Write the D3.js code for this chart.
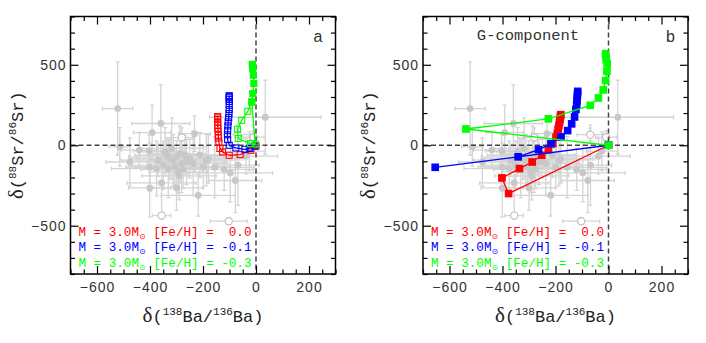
<!DOCTYPE html>
<html>
<head>
<meta charset="utf-8">
<script src="https://cdn.jsdelivr.net/npm/d3@7"></script>
<style>
  body { margin: 0; background: #fff; }
  svg { display: block; }
  .tick text { font-family: "Liberation Sans", "DejaVu Sans", sans-serif; font-size: 14px; fill: #333; letter-spacing: 1px; }
  .mono { font-family: "Liberation Mono", "DejaVu Sans Mono", monospace; }
</style>
</head>
<body>
<svg id="chart" width="706" height="343"></svg>
<script>
// grains (same measurements drawn behind both panels)
const grainX = [-522, -514, -476, -403, -392, -359, -232, -356, -401, -300, -218, -180, -156, -97, -78, -68, 35, -38, -25,
  -337, -325, -312, -300, -287, -268, -350, -331, -306, -293, -262, -375, -401, -250, -237, -199, -187, -369, -281, -343,
  -318, -275, -212, -120, -440, -290];
const grainY = [228, -10, -104, -35, 79, 135, 72, -234, -265, -265, -311, -85, -137, -172, -219, -124, 174, -68, -37,
  -62, -83, -93, -72, -52, -62, -124, -145, -135, -166, -104, -145, -135, -83, -114, -135, -93, -93, -114, -40,
  -20, -150, -60, -150, -30, -190];
const grainXErr = [57, 40, 90, 60, 70, 110, 60, 130, 80, 100, 140, 120, 150, 160, 100, 80, 210, 120, 60,
  120, 150, 90, 180, 100, 140, 130, 100, 160, 110, 150, 170, 90, 200, 130, 100, 110, 140, 100, 80,
  120, 160, 90, 110, 70, 140];
const grainYErr = [290, 120, 150, 100, 170, 240, 110, 200, 180, 140, 130, 150, 190, 180, 200, 250, 230, 110, 120,
  110, 130, 160, 100, 170, 120, 150, 180, 110, 130, 140, 170, 150, 120, 200, 130, 160, 100, 180, 150,
  190, 120, 140, 130, 110, 150];
const openX = [-356, -103, -280, -69, -9];
const openY = [-437, -472, 48, 66, 50];
const openXErr = [35, 70, 40, 50, 40];
const openYErr = [20, 20, 60, 40, 40];

// panel a models (open squares)
const redA = [[0, -4], [-19, -31], [-60, -58], [-101, -62], [-126, -42], [-136, -20], [-140, 20], [-142, 45], [-142, 62],
  [-143, 85], [-144, 105], [-144, 125], [-145, 145], [-145, 160], [-145, 170], [-145, 178]];
const blueA = [[-4, -6], [-23, -20], [-42, -25], [-76, -17], [-101, 0], [-107, 35], [-108, 65], [-107, 93], [-106, 120],
  [-105, 145], [-103, 172], [-102, 197], [-101, 222], [-101, 248], [-101, 272], [-101, 285], [-101, 295], [-101, 302], [-101, 308]];
const greenA = [[-16, 269], [-3, 8], [-21, 10], [-67, 42], [-70, 99], [-54, 155], [-31, 211], [-16, 269], [-12, 321],
  [-8, 383], [-10, 435], [-12, 476], [-13, 490], [-14, 503]];
const greenAFilledFrom = 7;

// panel b models (filled squares)
const redB = [[0, 0], [-377, -300], [-402, -203], [-336, -145], [-288, -104], [-252, -62], [-227, -27], [-210, 10],
  [-198, 50], [-193, 75], [-190, 100], [-187, 122], [-185, 142], [-183, 158], [-182, 172], [-181, 182], [-180, 190]];
const blueB = [[0, 0], [-654, -137], [-341, -72], [-264, -27], [-217, 10], [-179, 52], [-154, 91], [-139, 133],
  [-128, 176], [-123, 222], [-120, 250], [-119, 275], [-118, 298], [-117, 318], [-116, 335]];
const greenB = [[0, 0], [-538, 101], [-227, 164], [-69, 248], [-38, 294], [-20, 344], [-11, 402], [-6, 460],
  [-5, 507], [-8, 530], [-9, 545], [-11, 569]];

const legendFeH = ['  0.0', ' -0.1', ' -0.3'];
const modelColors = ['#ff0000', '#0000ff', '#00ff00'];

const xMajor = [-600, -400, -200, 0, 200];
const yMajor = [-500, 0, 500];
const xMinor = d3.range(-700, 301, 50).filter((v) => !xMajor.includes(v));
const yMinor = d3.range(-800, 801, 100).filter((v) => !yMajor.includes(v));

const svg = d3.select('#chart');
svg.append('rect').attr('width', 706).attr('height', 343).attr('fill', '#fff');

const plotTop = 16.5;
const plotBottom = 274;
const panelW = 265;

function axisTitle(g, sup1, el1, sup2, el2) {
  g.append('tspan').attr('font-family', '"Liberation Serif", serif').attr('font-size', 21).text('δ');
  g.append('tspan').text('(');
  g.append('tspan').attr('font-size', 11).attr('dy', -7).text(sup1);
  g.append('tspan').attr('dy', 7).text(el1 + '/');
  g.append('tspan').attr('font-size', 11).attr('dy', -7).text(sup2);
  g.append('tspan').attr('dy', 7).text(el2 + ')');
}

function drawPanel(left, id, models, filledFrom, label, subtitle) {
  const x = d3.scaleLinear().domain([-700, 300]).range([left, left + panelW]);
  const y = d3.scaleLinear().domain([-800, 800]).range([plotBottom, plotTop]);
  const g = svg.append('g');

  g.append('clipPath').attr('id', 'clip' + id)
    .append('rect').attr('x', left).attr('y', plotTop).attr('width', panelW).attr('height', plotBottom - plotTop);
  const plot = g.append('g').attr('clip-path', `url(#clip${id})`);

  // error bars
  const bars = plot.append('g').attr('stroke', '#d4d4d4').attr('stroke-width', 1.3);
  const allX = grainX.concat(openX);
  const allY = grainY.concat(openY);
  const allXe = grainXErr.concat(openXErr);
  const allYe = grainYErr.concat(openYErr);
  allX.forEach((vx, i) => {
    const cx = x(vx);
    const cy = y(allY[i]);
    const x0 = x(vx - allXe[i]);
    const x1 = x(vx + allXe[i]);
    const y0 = y(allY[i] - allYe[i]);
    const y1 = y(allY[i] + allYe[i]);
    bars.append('line').attr('x1', x0).attr('x2', x1).attr('y1', cy).attr('y2', cy);
    bars.append('line').attr('x1', cx).attr('x2', cx).attr('y1', y0).attr('y2', y1);
    bars.append('line').attr('x1', x0).attr('x2', x0).attr('y1', cy - 2).attr('y2', cy + 2);
    bars.append('line').attr('x1', x1).attr('x2', x1).attr('y1', cy - 2).attr('y2', cy + 2);
    bars.append('line').attr('x1', cx - 2).attr('x2', cx + 2).attr('y1', y0).attr('y2', y0);
    bars.append('line').attr('x1', cx - 2).attr('x2', cx + 2).attr('y1', y1).attr('y2', y1);
  });

  plot.append('g').selectAll('circle')
    .data(grainX.map((vx, i) => [vx, grainY[i]]))
    .join('circle')
    .attr('cx', (d) => x(d[0]))
    .attr('cy', (d) => y(d[1]))
    .attr('r', 3.4)
    .attr('fill', '#c8c8c8');

  plot.append('g').selectAll('circle')
    .data(openX.map((vx, i) => [vx, openY[i]]))
    .join('circle')
    .attr('cx', (d) => x(d[0]))
    .attr('cy', (d) => y(d[1]))
    .attr('r', 3.6)
    .attr('fill', '#fff')
    .attr('stroke', '#c0c0c0')
    .attr('stroke-width', 1.2);

  // zero lines
  plot.append('line').attr('x1', left).attr('x2', left + panelW).attr('y1', y(0)).attr('y2', y(0))
    .attr('stroke', '#444').attr('stroke-width', 1.5).attr('stroke-dasharray', '5,3');
  plot.append('line').attr('x1', x(0)).attr('x2', x(0)).attr('y1', plotTop).attr('y2', plotBottom)
    .attr('stroke', '#444').attr('stroke-width', 1.5).attr('stroke-dasharray', '5,3');

  const line = d3.line().x((d) => x(d[0])).y((d) => y(d[1]));
  models.forEach((pts, k) => {
    const color = modelColors[k];
    plot.append('path').datum(pts).attr('d', line)
      .attr('fill', 'none').attr('stroke', color).attr('stroke-width', 1.3);
    const s = filledFrom[k] === 0 ? 6.5 : 6;
    plot.append('g').selectAll('rect')
      .data(pts)
      .join('rect')
      .attr('x', (d) => x(d[0]) - s / 2)
      .attr('y', (d) => y(d[1]) - s / 2)
      .attr('width', s)
      .attr('height', s)
      .attr('fill', (d, i) => (i >= filledFrom[k] ? color : 'none'))
      .attr('stroke', color)
      .attr('stroke-width', 1.1);
  });

  // frame ticks, pointing inward on all four sides
  const ax = (axis, tr, vals, len, labels, pad) => g.append('g')
    .attr('transform', tr)
    .call(axis.tickValues(vals).tickSize(-len).tickPadding(pad)
      .tickFormat(labels ? d3.format('d') : ''))
    .call((s) => s.select('.domain').remove())
    .call((s) => s.selectAll('.tick line').attr('stroke', '#000').attr('stroke-width', 1.2));

  ax(d3.axisBottom(x), `translate(0,${plotBottom})`, xMajor, 8, true, 8);
  ax(d3.axisBottom(x), `translate(0,${plotBottom})`, xMinor, 4.5, false, 0);
  ax(d3.axisTop(x), `translate(0,${plotTop})`, xMajor, 8, false, 0);
  ax(d3.axisTop(x), `translate(0,${plotTop})`, xMinor, 4.5, false, 0);
  ax(d3.axisLeft(y), `translate(${left},0)`, yMajor, 8, true, 4);
  ax(d3.axisLeft(y), `translate(${left},0)`, yMinor, 4.5, false, 0);
  ax(d3.axisRight(y), `translate(${left + panelW},0)`, yMajor, 8, false, 0);
  ax(d3.axisRight(y), `translate(${left + panelW},0)`, yMinor, 4.5, false, 0);

  g.append('rect').attr('x', left).attr('y', plotTop).attr('width', panelW).attr('height', plotBottom - plotTop)
    .attr('fill', 'none').attr('stroke', '#000').attr('stroke-width', 1.5);

  // labels
  g.append('text').attr('x', left + panelW - 22).attr('y', 42)
    .attr('font-family', '"Liberation Sans", sans-serif').attr('font-size', 16).attr('fill', '#333')
    .text(label);
  if (subtitle) {
    g.append('text').attr('class', 'mono').attr('x', left + 105).attr('y', 40)
      .attr('text-anchor', 'middle').attr('font-size', 15.5).attr('fill', '#333').text(subtitle);
  }

  legendFeH.forEach((feh, k) => {
    const t = g.append('text').attr('class', 'mono').attr('x', left + 8).attr('y', 235.5 + k * 15.5)
      .attr('font-size', 12.6).attr('fill', modelColors[k])
      .style('white-space', 'pre');
    t.append('tspan').text('M = 3.0M');
    t.append('tspan').attr('font-family', '"DejaVu Sans", sans-serif').attr('font-size', 8).attr('dy', 3).text('⊙');
    t.append('tspan').attr('dy', -3).text(` [Fe/H] =${feh}`);
  });

  const xt = g.append('text').attr('class', 'mono').attr('x', left + panelW / 2).attr('y', 322)
    .attr('text-anchor', 'middle').attr('font-size', 17).attr('fill', '#222');
  axisTitle(xt, '138', 'Ba', '136', 'Ba');

  const yt = g.append('text').attr('class', 'mono')
    .attr('transform', `translate(${left - 48},${(plotTop + plotBottom) / 2}) rotate(-90)`)
    .attr('text-anchor', 'middle').attr('font-size', 17).attr('fill', '#222');
  axisTitle(yt, '88', 'Sr', '86', 'Sr');
}

drawPanel(70.5, 'a', [redA, blueA, greenA], [Infinity, Infinity, greenAFilledFrom], 'a', null);
drawPanel(423, 'b', [redB, blueB, greenB], [0, 0, 0], 'b', 'G-component');
</script>
</body>
</html>
